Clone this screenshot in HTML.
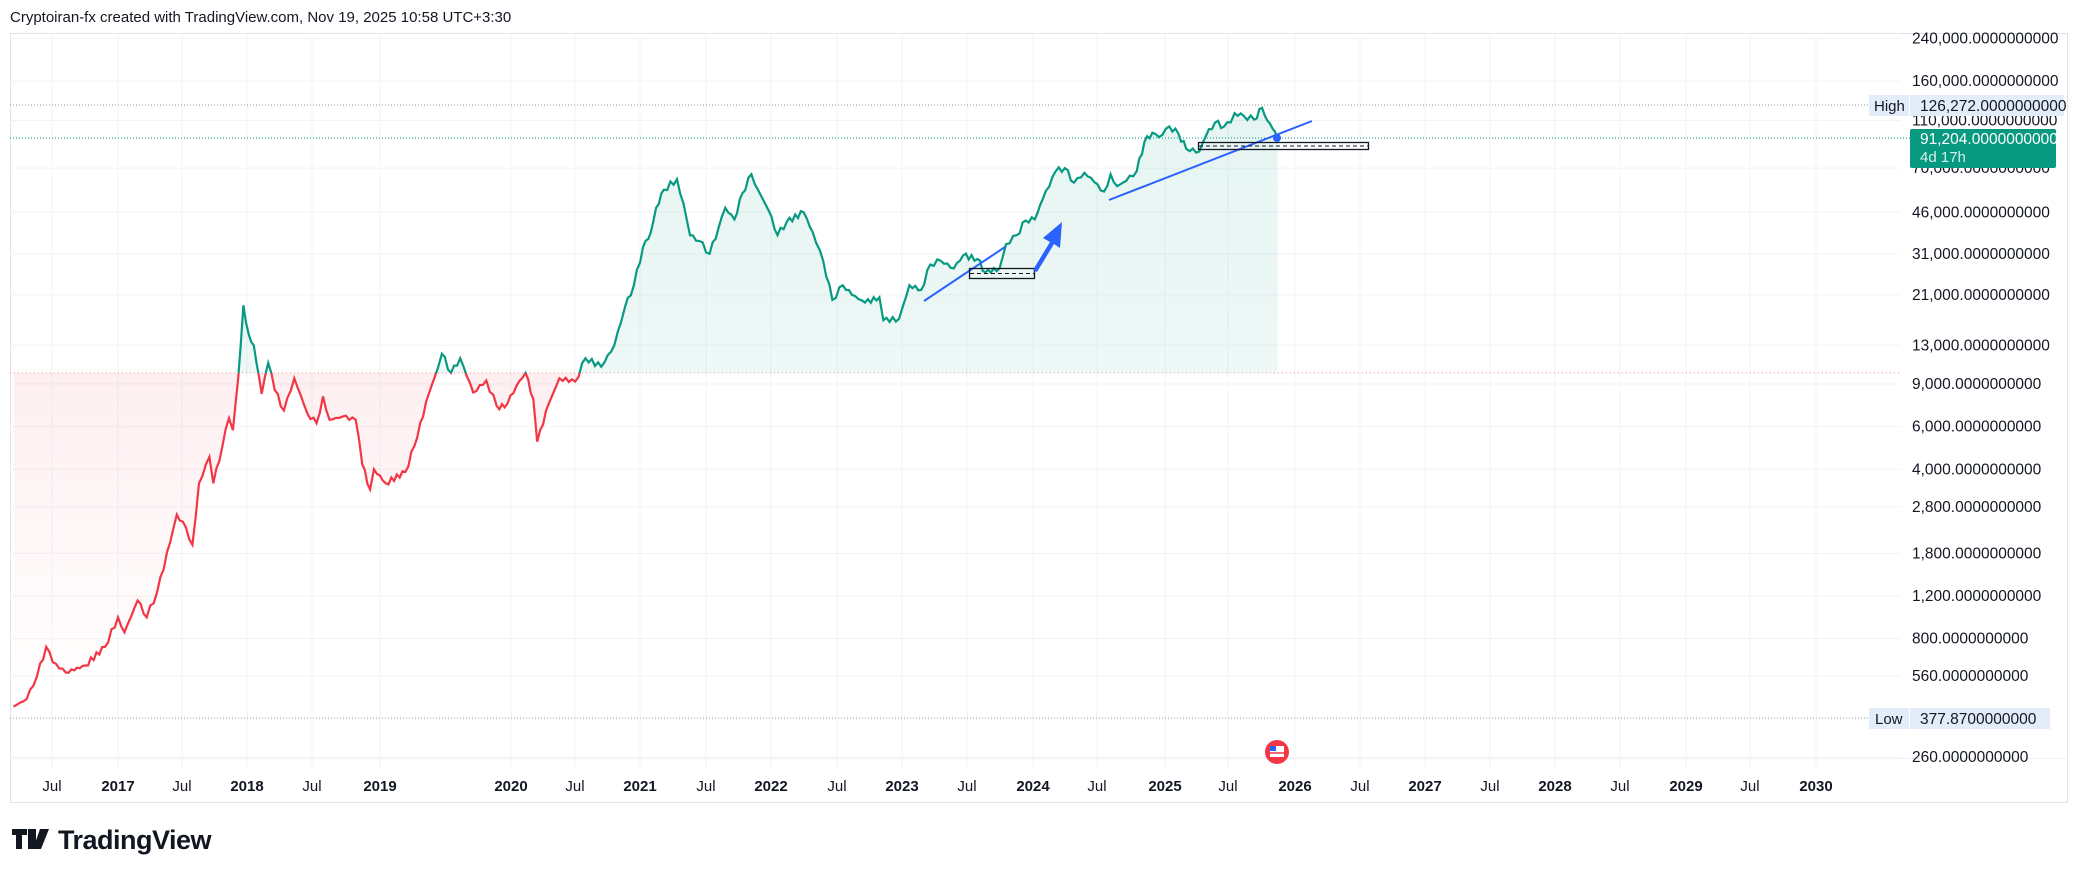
<!DOCTYPE html><html><head><meta charset="utf-8"><style>
body{margin:0;background:#fff;width:2082px;height:878px;overflow:hidden;font-family:"Liberation Sans",sans-serif}
svg{position:absolute;left:0;top:0}
</style></head><body>
<svg id="s" width="2082" height="878" xmlns="http://www.w3.org/2000/svg">
<defs>
<linearGradient id="gg" x1="0" y1="0" x2="0" y2="1"><stop offset="0" stop-color="#089981" stop-opacity="0.10"/><stop offset="1" stop-color="#089981" stop-opacity="0.03"/></linearGradient>
<linearGradient id="rg" x1="0" y1="0" x2="0" y2="1"><stop offset="0" stop-color="#f23645" stop-opacity="0.14"/><stop offset="1" stop-color="#f23645" stop-opacity="0"/></linearGradient>
<clipPath id="above"><rect x="0" y="0" width="2082" height="373"/></clipPath>
<clipPath id="below"><rect x="0" y="373" width="2082" height="500"/></clipPath>
</defs>
<text x="10" y="22" font-size="15" fill="#131722">Cryptoiran-fx created with TradingView.com, Nov 19, 2025 10:58 UTC+3:30</text>
<rect x="10.5" y="33.5" width="2057" height="769" fill="none" stroke="#e0e3eb"/>
<line x1="10" y1="758.5" x2="2068" y2="758.5" stroke="#eef0f4"/>
<g id="grid"></g>
<g id="plot"></g>
</svg>
<script>
const S=document.getElementById('s'),NS='http://www.w3.org/2000/svg';
function el(t,a,p){const e=document.createElementNS(NS,t);for(const k in a)e.setAttribute(k,a[k]);if(a.txt)e.textContent=a.txt;(p||S).appendChild(e);return e}
const Y=v=>38.5+(5.380-Math.log10(v))*242.3, X=t=>118+(t-2017)*130.6;
const G=document.getElementById('grid'),P=document.getElementById('plot');
const ticks=[[52,'Jul'],[118,'2017'],[182,'Jul'],[247,'2018'],[312,'Jul'],[380,'2019'],[511,'2020'],[575,'Jul'],[640,'2021'],[706,'Jul'],[771,'2022'],[837,'Jul'],[902,'2023'],[967,'Jul'],[1033,'2024'],[1097,'Jul'],[1165,'2025'],[1228,'Jul'],[1295,'2026'],[1360,'Jul'],[1425,'2027'],[1490,'Jul'],[1555,'2028'],[1620,'Jul'],[1686,'2029'],[1750,'Jul'],[1816,'2030']];
ticks.forEach(([x,l])=>{el('line',{x1:x,y1:34,x2:x,y2:768,stroke:'#f2f3f6'},G);el('text',{x:x,y:791,'font-size':15,'text-anchor':'middle',fill:'#131722','font-weight':l=='Jul'?'normal':'bold',txt:l},G)});
const lv=[240000,160000,110000,70000,46000,31000,21000,13000,9000,6000,4000,2800,1800,1200,800,560,260];
lv.forEach(v=>{const y=Y(v);el('line',{x1:10,y1:y,x2:1900,y2:y,stroke:'#f2f3f6'},G);el('text',{x:1912,y:y+5,'font-size':15.5,fill:'#131722',txt:v.toLocaleString('en-US')+'.0000000000'},G)});
const d=[[2016.2,420],[2016.3,450],[2016.38,560],[2016.45,740],[2016.5,640],[2016.6,580],[2016.75,620],[2016.9,740],[2017.0,980],[2017.05,850],[2017.15,1150],[2017.22,980],[2017.3,1250],[2017.4,2000],[2017.45,2600],[2017.52,2300],[2017.57,1950],[2017.62,3500],[2017.7,4500],[2017.73,3500],[2017.8,5000],[2017.85,6500],[2017.88,5800],[2017.92,9500],[2017.96,19000],[2018.0,14500],[2018.04,13000],[2018.1,8200],[2018.15,11000],[2018.2,8500],[2018.27,7000],[2018.35,9500],[2018.45,6800],[2018.52,6200],[2018.57,8000],[2018.62,6400],[2018.72,6600],[2018.82,6400],[2018.87,4200],[2018.93,3300],[2018.96,4000],[2019.05,3500],[2019.2,3900],[2019.27,5000],[2019.38,8200],[2019.45,10500],[2019.48,12000],[2019.55,10000],[2019.62,11500],[2019.72,8300],[2019.82,9300],[2019.9,7300],[2019.96,7200],[2020.05,8800],[2020.12,10000],[2020.18,7800],[2020.21,5200],[2020.3,7500],[2020.38,9500],[2020.5,9200],[2020.58,11500],[2020.7,10600],[2020.8,13000],[2020.88,18500],[2020.95,23000],[2021.02,33000],[2021.08,38000],[2021.12,48000],[2021.18,57000],[2021.28,63000],[2021.33,50000],[2021.38,37000],[2021.45,35000],[2021.53,31000],[2021.6,40000],[2021.65,48000],[2021.72,43000],[2021.78,55000],[2021.85,66000],[2021.9,57000],[2021.98,47000],[2022.05,37000],[2022.12,42000],[2022.25,46000],[2022.32,38000],[2022.4,29000],[2022.47,20000],[2022.55,23000],[2022.62,21000],[2022.72,19500],[2022.83,20500],[2022.86,16500],[2022.98,16700],[2023.06,23000],[2023.15,22000],[2023.22,28000],[2023.3,29000],[2023.4,27000],[2023.47,30500],[2023.58,29500],[2023.64,26000],[2023.75,27000],[2023.8,34000],[2023.88,37000],[2023.95,42500],[2024.02,43000],[2024.08,52000],[2024.18,68000],[2024.25,70000],[2024.32,61000],[2024.4,67000],[2024.5,60000],[2024.55,56000],[2024.6,66000],[2024.65,59000],[2024.72,62000],[2024.8,68000],[2024.86,90000],[2024.92,98000],[2024.97,94000],[2025.05,104000],[2025.12,97000],[2025.18,84000],[2025.28,82000],[2025.33,95000],[2025.4,108000],[2025.47,104000],[2025.52,108000],[2025.55,118000],[2025.62,115000],[2025.7,111000],[2025.76,124000],[2025.8,110000],[2025.84,102000],[2025.88,91204]];
let pts=d.map(([t,v])=>[X(t),Y(v)]);
let dense=[];for(let i=0;i<pts.length-1;i++){const[a,b]=pts[i],[c,e]=pts[i+1];const n=Math.max(1,Math.round((c-a)/3));for(let k=0;k<n;k++){const f=k/n;dense.push([a+(c-a)*f,b+(e-b)*f+(k?Math.sin(i*7+k*3.1)*3:0)])}}dense.push(pts[pts.length-1]);
const line='M'+dense.map(p=>p[0].toFixed(1)+','+p[1].toFixed(1)).join('L');
const x0=dense[0][0],x1=dense[dense.length-1][0];
const area=line+`L${x1},373L${x0},373Z`;
el('path',{d:area,fill:'url(#gg)','clip-path':'url(#above)'},P);
el('path',{d:area,fill:'url(#rg)','clip-path':'url(#below)'},P);
el('line',{x1:10,y1:373,x2:1900,y2:373,stroke:'#f23645','stroke-dasharray':'1 3','stroke-opacity':.6},P);
el('path',{d:line,fill:'none',stroke:'#089981','stroke-width':2.2,'clip-path':'url(#above)'},P);
el('path',{d:line,fill:'none',stroke:'#f23645','stroke-width':2.2,'clip-path':'url(#below)'},P);
el('line',{x1:10,y1:105,x2:1868,y2:105,stroke:'#9598a1','stroke-dasharray':'1 2'},P);
el('line',{x1:10,y1:138,x2:1910,y2:138,stroke:'#089981','stroke-dasharray':'1 2'},P);
el('line',{x1:10,y1:718,x2:1868,y2:718,stroke:'#9598a1','stroke-dasharray':'1 2'},P);
el('line',{x1:924,y1:301,x2:1005,y2:247,stroke:'#2962ff','stroke-width':2},P);
el('line',{x1:1109,y1:200,x2:1312,y2:121,stroke:'#2962ff','stroke-width':2},P);
el('rect',{x:969.5,y:268.5,width:65,height:10,fill:'none',stroke:'#131722','stroke-width':1.3},P);
el('line',{x1:970,y1:273.5,x2:1034,y2:273.5,stroke:'#131722','stroke-dasharray':'4 3'},P);
el('rect',{x:1198.5,y:142.5,width:170,height:7,fill:'none',stroke:'#131722','stroke-width':1.3},P);
el('line',{x1:1199,y1:146,x2:1368,y2:146,stroke:'#131722','stroke-dasharray':'4 3'},P);
el('path',{d:'M1033,270 L1050,242 L1043,238 L1062,222 L1060,248 L1054,244 L1037,272Z',fill:'#2962ff'},P);
el('circle',{cx:1277,cy:138,r:4,fill:'#2962ff'},P);
el('rect',{x:1869,y:95,width:40,height:21,fill:'#e3ecf9'},P);
el('text',{x:1874,y:111,'font-size':15,fill:'#131722',txt:'High'},P);
el('rect',{x:1910,y:95,width:154,height:21,fill:'#e3ecf9'},P);
el('text',{x:1920,y:111,'font-size':15.5,fill:'#131722',txt:'126,272.0000000000'},P);
el('rect',{x:1910,y:129,width:146,height:39,rx:2,fill:'#089981'},P);
el('text',{x:1920,y:144,'font-size':15.5,fill:'#fff',txt:'91,204.0000000000'},P);
el('text',{x:1920,y:162,'font-size':15,fill:'#d6f0ea',txt:'4d 17h'},P);
el('rect',{x:1869,y:708,width:40,height:21,fill:'#e3ecf9'},P);
el('text',{x:1875,y:724,'font-size':15,fill:'#131722',txt:'Low'},P);
el('rect',{x:1910,y:708,width:140,height:21,fill:'#e3ecf9'},P);
el('text',{x:1920,y:724,'font-size':15.5,fill:'#131722',txt:'377.8700000000'},P);
el('circle',{cx:1277,cy:752,r:12,fill:'#f23645'},P);
el('rect',{x:1270,y:746,width:14,height:11,fill:'#fff'},P);
el('rect',{x:1270,y:746,width:6,height:5,fill:'#2962ff'},P);
el('line',{x1:1270,y1:753,x2:1284,y2:753,stroke:'#f23645','stroke-width':1.5},P);
el('path',{d:'M12,829h15v6h-5v14h-6v-14h-4z M28,829h8v20h-8z',fill:'#131722'},P);
el('path',{d:'M40,829h9l-8,20h-8z',fill:'#131722'},P);
el('text',{x:58,y:849,'font-size':27,'font-weight':'bold',fill:'#131722','letter-spacing':'-0.5',txt:'TradingView'},P);
</script>
</body></html>
